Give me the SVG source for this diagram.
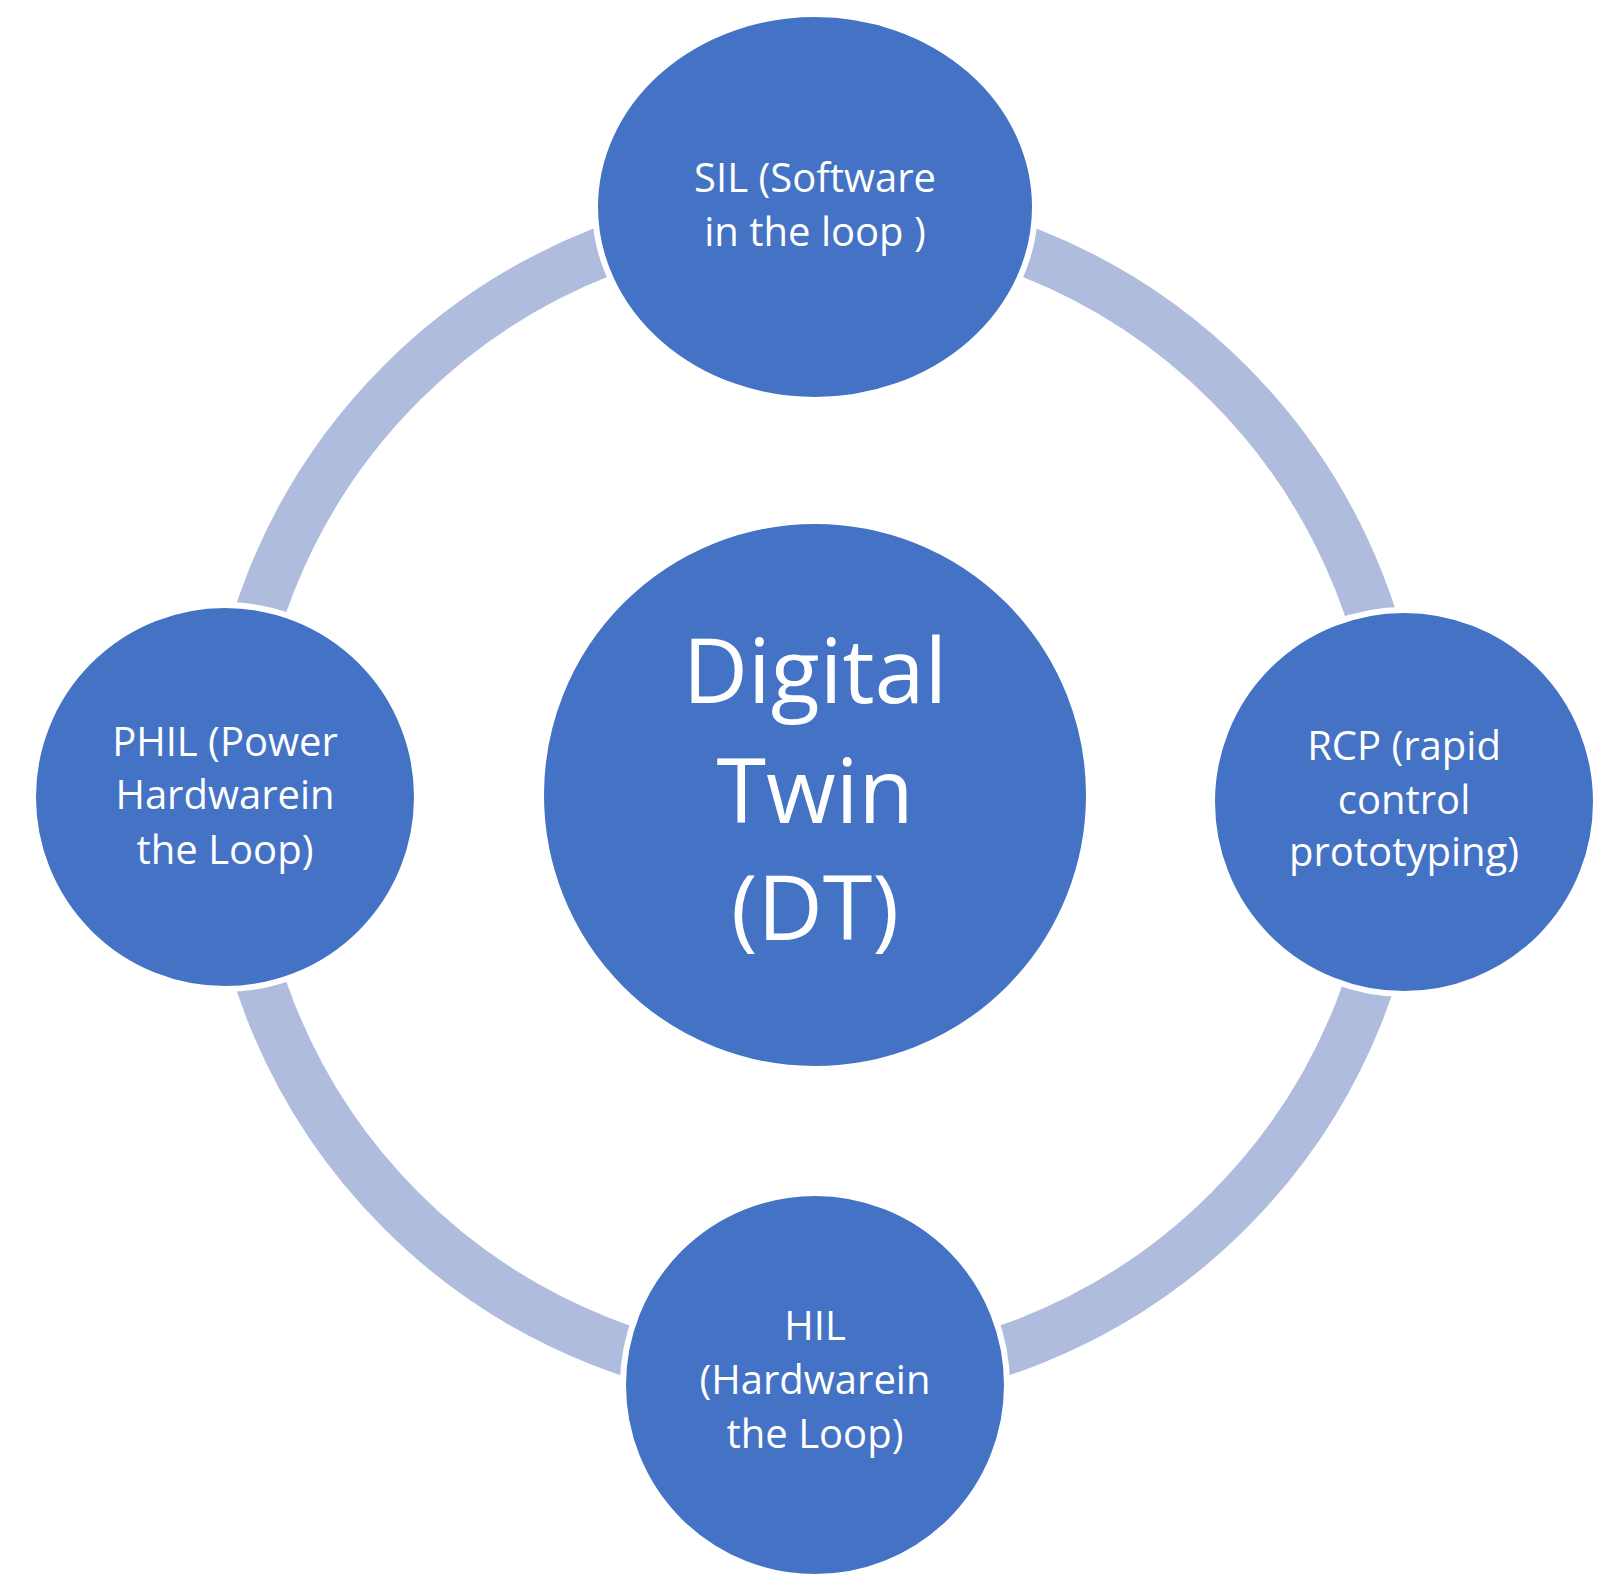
<svg xmlns="http://www.w3.org/2000/svg" width="1615" height="1588" viewBox="0 0 1615 1588">
<style>
.n{fill:#4472C4;stroke:#fff;stroke-width:6}
.t{fill:#fff;font-family:"Open Sans","Liberation Sans",sans-serif;font-size:40px;text-anchor:middle}
.c{font-size:90px}
</style>
<rect width="1615" height="1588" fill="#fff"/>
<g id="connectors"><circle cx="815" cy="797" r="585" fill="none" stroke="#AFBCDD" stroke-width="50"/></g>
<g id="center"><circle class="n" cx="815" cy="795" r="274"/>
<text class="t c" x="815" y="703">Digital</text><text class="t c" x="815" y="823">Twin</text><text class="t c" x="815" y="940">(DT)</text></g>
<g id="sil"><ellipse class="n" cx="815" cy="207" rx="220" ry="193"/>
<text class="t" x="815" y="192">SIL (Software</text><text class="t" x="815" y="246">in the loop )</text></g>
<g id="phil"><circle class="n" cx="225" cy="797" r="192"/>
<text class="t" x="225" y="756">PHIL (Power</text><text class="t" x="225" y="809">Hardwarein</text><text class="t" x="225" y="864">the Loop)</text></g>
<g id="rcp"><circle class="n" cx="1404" cy="802" r="192"/>
<text class="t" x="1404" y="760">RCP (rapid</text><text class="t" x="1404" y="814">control</text><text class="t" x="1404" y="866">prototyping)</text></g>
<g id="hil"><circle class="n" cx="815" cy="1385" r="192"/>
<text class="t" x="815" y="1340">HIL</text><text class="t" x="815" y="1394">(Hardwarein</text><text class="t" x="815" y="1448">the Loop)</text></g>
</svg>
